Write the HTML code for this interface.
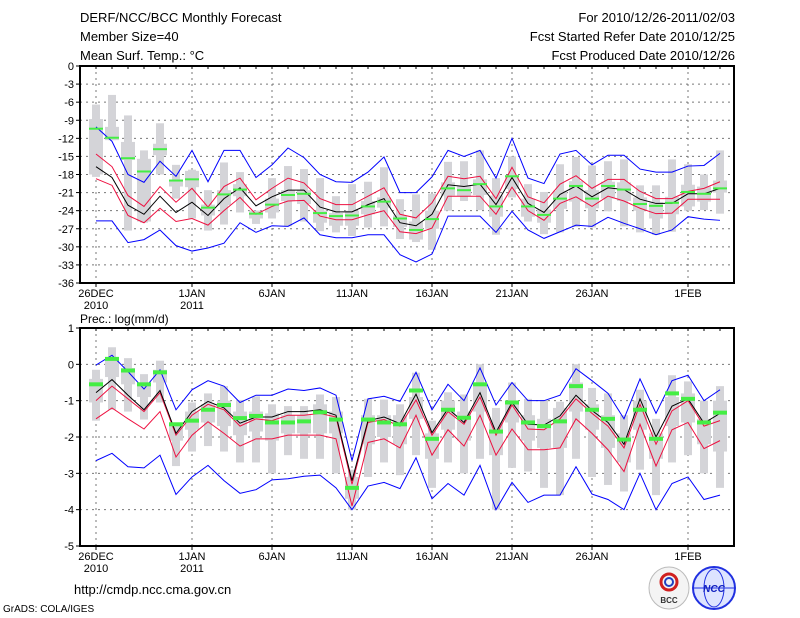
<!DOCTYPE html>
<html><head><meta charset="utf-8">
<style>
html,body{margin:0;padding:0;background:#fff;}
svg{display:block;font-family:"Liberation Sans",sans-serif;}
</style></head>
<body>
<svg id="chart" width="800" height="618" viewBox="0 0 800 618" xmlns="http://www.w3.org/2000/svg">
<rect width="800" height="618" fill="#fff"/>
<g font-size="13" fill="#000">
<text x="80" y="22">DERF/NCC/BCC Monthly Forecast</text>
<text x="80" y="41">Member Size=40</text>
<text x="80" y="60">Mean Surf. Temp.: °C</text>
<text x="735" y="22" text-anchor="end">For 2010/12/26-2011/02/03</text>
<text x="735" y="41" text-anchor="end">Fcst Started Refer Date 2010/12/25</text>
<text x="735" y="60" text-anchor="end">Fcst Produced Date 2010/12/26</text>
</g>
<text x="80" y="323" font-size="12">Prec.: log(mm/d)</text>
<text x="74" y="594" font-size="13">http://cmdp.ncc.cma.gov.cn</text>
<text x="3" y="612" font-size="10">GrADS: COLA/IGES</text>
<g>
<ellipse cx="669" cy="588" rx="20" ry="21" fill="#f4f4f4" stroke="#bbb"/>
<circle cx="669" cy="582" r="8" fill="none" stroke="#d02020" stroke-width="3"/>
<circle cx="669" cy="582" r="4" fill="none" stroke="#2040c0" stroke-width="2"/>
<text x="669" y="603" font-size="8" text-anchor="middle" font-weight="bold" fill="#333">BCC</text>
</g>
<g>
<circle cx="714" cy="588" r="21" fill="#dde4ff" stroke="#2030e0" stroke-width="2"/>
<ellipse cx="714" cy="588" rx="10" ry="19" fill="none" stroke="#2030e0"/>
<line x1="694" y1="588" x2="734" y2="588" stroke="#2030e0"/>
<text x="714" y="592" font-size="10" text-anchor="middle" font-style="italic" font-weight="bold" fill="#1020c0">NCC</text>
</g>
<g id="plots"></g>
</svg>
<script>
// Temperature panel data (°C), days from 26 Dec 2010
const tObs=[-10.4,-11.9,-15.3,-17.5,-13.8,-19,-18.8,-23.5,-21.3,-20.5,-24.5,-23,-21.4,-21.2,-24.4,-24.9,-24.8,-23.3,-22.5,-25.3,-27.2,-25.4,-20.3,-20.6,-19.6,-23.3,-18.3,-23.3,-24.7,-22,-19.9,-22,-19.9,-20.5,-22.9,-23.2,-22.7,-20.9,-21.2,-20.3];
const tMean=[-16.7,-18.5,-23.1,-24.6,-21.6,-24.3,-22.6,-24.8,-22,-20.2,-23.2,-21.7,-20.6,-20.6,-23.4,-24.2,-24.2,-23,-22,-26,-26.5,-24.6,-19.7,-20,-19.6,-23,-18.5,-22.8,-24.3,-21.3,-19.9,-21.7,-20.2,-20.5,-22.1,-22.8,-22.8,-21.2,-21.2,-20.3];
const tRedHi=[-14.6,-16.7,-21.5,-23.3,-20,-22.6,-20.3,-23.4,-20,-18.6,-22.2,-20.3,-18.6,-19.4,-22,-23,-23,-21.6,-20.2,-24.6,-25.2,-22.7,-18.3,-18.7,-18.3,-22,-16.8,-21.7,-22.7,-19.6,-18.2,-20.3,-18.8,-18.8,-20.8,-22,-22,-20.8,-20.3,-19.2];
const tRedLo=[-18.7,-19.8,-24.8,-26,-23.6,-25.8,-25.3,-26.4,-24,-21.8,-24.6,-23.3,-22.4,-22.3,-24.9,-25.5,-25.5,-24.7,-24,-27.5,-27.8,-26.9,-21.6,-21.6,-21.6,-24.6,-20.1,-24,-25.6,-22.8,-21.7,-23.3,-21.6,-22.4,-23.6,-24.5,-24.4,-22.1,-22.1,-22.1];
const tBlueHi=[-10.1,-12.5,-18,-19.3,-15.8,-18.3,-14,-19.2,-14,-14,-18.5,-16.4,-13.6,-15.2,-18,-19.2,-19.3,-17.6,-15.1,-21,-21,-18.4,-14,-15,-14,-18.6,-12,-18.6,-19.5,-14.6,-14,-16.4,-14.8,-14.8,-17.1,-17.6,-17.6,-16.6,-16.5,-14.5];
const tBlueLo=[-25.7,-25.7,-29.3,-28.8,-27.2,-29.8,-30.7,-30.2,-29.4,-26,-27.6,-26.5,-26.6,-25.2,-28,-28.5,-28.5,-28,-28,-31.3,-32.5,-31.2,-24.9,-24.9,-24.9,-27.6,-24.1,-27.2,-28.6,-27.5,-26.4,-26.6,-25.1,-26.1,-27,-28,-27.2,-25,-25.4,-25.6];
const tWhHi=[-6.4,-4.8,-8.2,-14,-9.5,-16.4,-17.2,-20.6,-16,-17.6,-24,-18.6,-16.6,-17.1,-18.6,-21.6,-19.6,-19.2,-16.8,-22.1,-21.3,-21.2,-15.9,-15.8,-14,-18.6,-15,-19.6,-20.9,-16.3,-15.1,-16.5,-15.8,-15.5,-19.8,-19.8,-15.5,-16.3,-18,-14];
const tWhLo=[-18.4,-12.3,-27.3,-26,-18,-22,-25.3,-27.3,-26.3,-24.3,-26.2,-25.3,-26.6,-25.8,-27.4,-27.6,-28.2,-26.8,-26.6,-28.7,-29.2,-30.5,-24,-22.4,-23.9,-28,-21.8,-25.8,-27.9,-27.6,-26.7,-26.8,-24.1,-26.6,-27.6,-28,-27.5,-24,-23.9,-24.5];
const tBoxHi=[-8.8,-10.1,-12.6,-15.4,-12.9,-19,-17.4,-23,-20.6,-19.6,-24,-22,-20.6,-20.6,-24,-24.4,-24,-22.4,-21.8,-24.8,-25.8,-24,-19.3,-19.8,-18.8,-21.5,-18.1,-22,-23.8,-20.7,-19.1,-20.6,-19.2,-19.3,-21.8,-22.6,-21.7,-19.7,-20,-19];
const tBoxLo=[-18,-12.3,-15.6,-25.8,-14.8,-20,-20.1,-24.8,-23.1,-21.6,-25.3,-24.3,-22.4,-22.9,-26,-26.5,-26.5,-24.6,-23.5,-26.7,-28.8,-27,-21.5,-21.6,-21.4,-25,-20.4,-25,-26,-23.7,-22.5,-23.6,-22,-22.4,-24,-25.3,-24.6,-23.3,-22.5,-21];
const tTicks=[0,-3,-6,-9,-12,-15,-18,-21,-24,-27,-30,-33,-36];

// Precipitation panel data (log mm/d)
const pObs=[-0.55,0.15,-0.17,-0.55,-0.22,-1.65,-1.55,-1.25,-1.12,-1.48,-1.42,-1.6,-1.6,-1.57,-1.32,-1.52,-3.4,-1.52,-1.6,-1.65,-0.72,-2.05,-1.25,-1.47,-0.55,-1.85,-1.05,-1.6,-1.7,-1.57,-0.6,-1.25,-1.5,-2.07,-1.25,-2.05,-0.8,-0.95,-1.6,-1.33];
const pMean=[-0.78,-0.42,-0.85,-1.25,-0.72,-1.9,-1.3,-1.02,-1.2,-1.62,-1.45,-1.45,-1.3,-1.3,-1.25,-1.4,-3.2,-1.55,-1.45,-1.63,-0.82,-1.88,-1.22,-1.6,-0.78,-1.87,-1.05,-1.65,-1.67,-1.42,-0.85,-1.27,-1.6,-2.2,-0.95,-2.0,-1.15,-0.95,-1.62,-1.35];
const pRedHi=[-1.0,-0.6,-0.95,-1.3,-0.78,-1.95,-1.4,-1.1,-1.25,-1.7,-1.5,-1.55,-1.4,-1.4,-1.35,-1.45,-3.3,-1.6,-1.52,-1.7,-0.98,-1.95,-1.3,-1.65,-0.9,-1.95,-1.12,-1.78,-1.8,-1.5,-0.95,-1.35,-1.7,-2.3,-1.1,-2.2,-1.28,-1.0,-1.7,-1.55];
const pRedLo=[-1.5,-1.2,-1.5,-1.78,-1.3,-2.55,-1.95,-1.58,-1.9,-2.25,-2.05,-2.05,-1.95,-1.95,-1.95,-2.05,-3.9,-2.15,-2.05,-2.3,-1.4,-2.5,-1.8,-2.25,-1.4,-2.5,-1.78,-2.35,-2.35,-2.3,-1.5,-1.9,-2.35,-2.95,-1.65,-2.8,-1.8,-1.6,-2.32,-2.1];
const pBlueHi=[-0.02,0.25,-0.2,-0.68,-0.15,-1.25,-0.7,-0.45,-0.6,-1.05,-0.85,-0.85,-0.68,-0.72,-0.65,-0.85,-2.65,-0.95,-0.88,-1.02,-0.22,-1.25,-0.55,-1.0,-0.1,-1.12,-0.5,-1.0,-1.0,-0.85,-0.12,-0.45,-0.8,-1.5,-0.4,-1.35,-0.45,-0.3,-1.0,-0.7];
const pBlueLo=[-2.65,-2.45,-2.82,-2.85,-2.5,-3.58,-3.1,-2.78,-3.2,-3.55,-3.45,-3.18,-3.15,-3.08,-3.05,-3.4,-4.0,-3.35,-3.25,-3.42,-2.57,-3.7,-3.28,-3.6,-2.78,-4.0,-3.25,-3.8,-3.6,-3.6,-2.82,-3.57,-3.72,-4.0,-3.0,-4.0,-3.28,-3.1,-3.72,-3.6];
const pWhHi=[-0.15,0.47,0.17,-0.27,0.1,-1.65,-1.05,-0.8,-0.6,-0.98,-0.88,-1.1,-1.15,-1.15,-0.83,-0.9,-2.9,-0.95,-0.97,-1.1,-0.23,-1.55,-0.77,-0.83,0.0,-1.2,-0.5,-0.95,-0.98,-1.03,0.0,-0.65,-0.8,-1.4,-0.7,-1.5,-0.3,-0.47,-1.0,-0.6];
const pWhLo=[-1.55,-1.25,-1.3,-1.52,-1.05,-2.8,-2.4,-2.25,-2.4,-2.7,-2.7,-3.0,-2.5,-2.6,-2.6,-3.0,-4.0,-3.1,-2.7,-3.05,-2.5,-3.4,-2.7,-3.0,-2.6,-4.0,-2.85,-2.95,-3.4,-3.6,-2.6,-3.1,-3.32,-3.5,-2.9,-3.6,-2.7,-2.5,-3.0,-3.4];
const pBoxHi=[-0.4,0.2,-0.1,-0.5,-0.15,-1.7,-1.3,-1.1,-1.0,-1.3,-1.3,-1.35,-1.4,-1.4,-1.1,-1.3,-3.1,-1.4,-1.4,-1.4,-0.9,-1.9,-1.0,-1.3,-0.5,-1.6,-1.0,-1.4,-1.5,-1.2,-0.5,-1.1,-1.4,-1.9,-1.0,-1.9,-0.9,-0.8,-1.5,-1.0];
const pBoxLo=[-1.05,-0.35,-0.55,-0.9,-0.5,-2.1,-1.8,-1.6,-1.7,-1.95,-1.85,-2.1,-1.9,-1.9,-1.9,-1.9,-3.7,-2.2,-2.0,-2.2,-1.5,-2.6,-1.8,-2.1,-1.3,-2.5,-1.6,-2.1,-2.3,-2.3,-1.3,-1.8,-2.3,-2.7,-1.8,-2.6,-1.7,-1.6,-2.2,-2.4];
const pTicks=[1,0,-1,-2,-3,-4,-5];

// X axis labels
const xLabelDays=[0,6,11,16,21,26,31,37];
const xLabels=["26DEC","1JAN","6JAN","11JAN","16JAN","21JAN","26JAN","1FEB"];
const xSub={0:"2010",6:"2011"};

const NS="http://www.w3.org/2000/svg";
const root=document.getElementById('plots');
function mk(tag,attrs,parent){const e=document.createElementNS(NS,tag);for(const k in attrs)e.setAttribute(k,attrs[k]);(parent||root).appendChild(e);return e;}
const X0=80,X1=734,DAY0=96,DX=16;
const xs=d=>DAY0+d*DX;

function panel(name,top,bot,vmax,vmin,ticks,d,greenH){
  const g=mk('g',{});
  
  
  const ys=v=>top+(vmax-v)/(vmax-vmin)*(bot-top);
  // grid
  ticks.forEach(t=>{
    if(t!==vmax&&t!==vmin){const l=mk('line',{x1:X0,x2:X1,y1:ys(t),y2:ys(t),stroke:'#777','stroke-dasharray':'2,4','stroke-width':1},g);
    }
    const tk=mk('line',{x1:X0-4,x2:X0,y1:ys(t),y2:ys(t),stroke:'#000'},g);
    
    const tx=mk('text',{x:X0-6,y:ys(t)+4,'font-size':11,'text-anchor':'end'},g);
    tx.textContent=String(t).replace('-','−').replace('−','-');
    
  });
  xLabelDays.forEach((dd,i)=>{
    const l=mk('line',{x1:xs(dd),x2:xs(dd),y1:top,y2:bot,stroke:'#777','stroke-dasharray':'2,4'},g);
    
    const tk=mk('line',{x1:xs(dd),x2:xs(dd),y1:bot,y2:bot+4,stroke:'#000'},g);
    
    const tx=mk('text',{x:xs(dd),y:bot+14,'font-size':11,'text-anchor':'middle'},g);
    tx.textContent=xLabels[i];
    
    if(xSub[dd]){const s=mk('text',{x:xs(dd),y:bot+26,'font-size':11,'text-anchor':'middle'},g);s.textContent=xSub[dd];
      }
  });
  for(let i=0;i<40;i++){const tk=mk('line',{x1:xs(i),x2:xs(i),y1:top,y2:top+3,stroke:'#000'},g);
    }
  // boxes
  for(let i=0;i<d.wh.length;i++){
    const x=xs(i);
    const w=mk('rect',{x:x-4,y:ys(d.wh[i]),width:8,height:Math.max(1,ys(d.wl[i])-ys(d.wh[i])),fill:'#d4d4d8'},g);
    
    const b=mk('rect',{x:x-7,y:ys(d.bh[i]),width:14,height:Math.max(1,ys(d.bl[i])-ys(d.bh[i])),fill:'#d4d4d8'},g);
    
  }
  const line=(arr,col,nm)=>{const p=mk('polyline',{points:arr.map((v,i)=>xs(i)+','+ys(v)).join(' '),fill:'none',stroke:col,'stroke-width':1},g);
    };
  line(d.blo,'#0000ff','blue-lower-line');line(d.bhi,'#0000ff','blue-upper-line');
  line(d.rlo,'#ee1040','red-lower-line');line(d.rhi,'#ee1040','red-upper-line');
  line(d.mean,'#000','ensemble-mean-line');
  d.obs.forEach((v,i)=>{const r=mk('rect',{x:xs(i)-7,y:ys(v)-greenH/2,width:14,height:greenH,fill:'#44ee44'},g);
    });
  const f=mk('rect',{x:X0,y:top,width:X1-X0,height:bot-top,fill:'none',stroke:'#000','stroke-width':2},g);
  
}
panel('temperature',66,283,0,-36,tTicks,{obs:tObs,mean:tMean,rhi:tRedHi,rlo:tRedLo,bhi:tBlueHi,blo:tBlueLo,wh:tWhHi,wl:tWhLo,bh:tBoxHi,bl:tBoxLo},2);
panel('precipitation',328,546,1,-5,pTicks,{obs:pObs,mean:pMean,rhi:pRedHi,rlo:pRedLo,bhi:pBlueHi,blo:pBlueLo,wh:pWhHi,wl:pWhLo,bh:pBoxHi,bl:pBoxLo},4);
</script>
</body></html>
